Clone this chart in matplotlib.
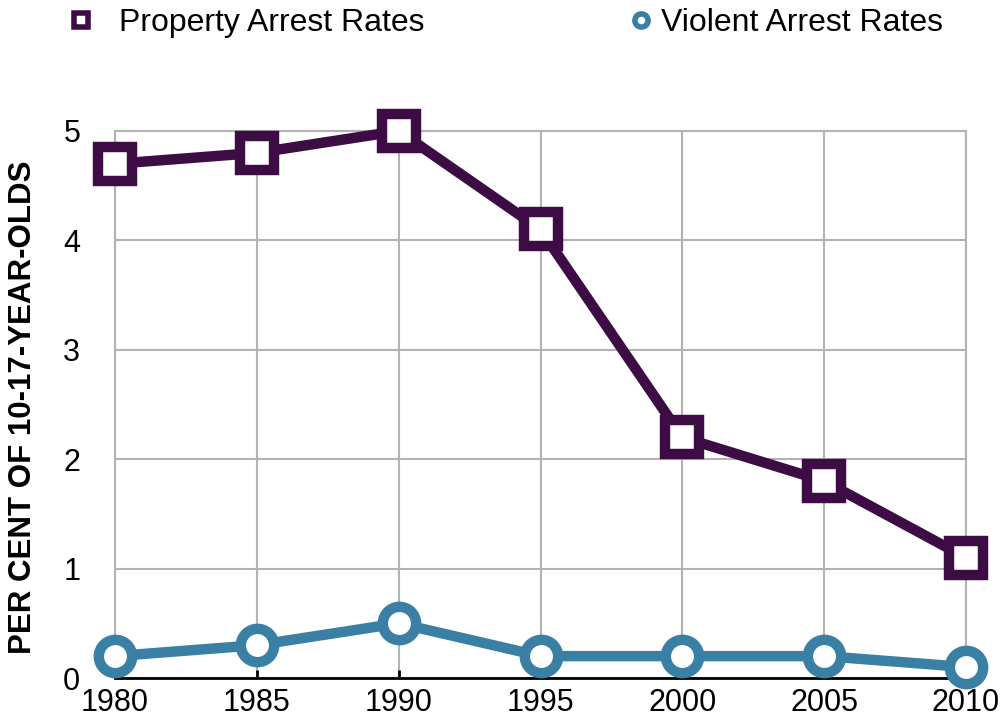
import matplotlib
matplotlib.use("Agg")
import matplotlib.pyplot as plt
from matplotlib.lines import Line2D

years = [1980, 1985, 1990, 1995, 2000, 2005, 2010]
property_rates = [4.7, 4.8, 5.0, 4.1, 2.2, 1.8, 1.1]
violent_rates = [0.2, 0.3, 0.5, 0.2, 0.2, 0.2, 0.1]
y_ticks = [0, 1, 2, 3, 4, 5]
series_names = ["Property Arrest Rates", "Violent Arrest Rates"]

purple = "#3d0c45"
blue = "#3a7fa4"

plt.rcParams['font.family'] = ['Liberation Sans', 'DejaVu Sans']

fig = plt.figure(figsize=(10.02, 7.27), dpi=100)
W, H = 1002, 727
ax = fig.add_axes([115 / W, 1 - 678 / H, (966 - 115) / W, (678 - 131) / H])

ax.plot(years, property_rates, color=purple, lw=7.5, marker='s', markersize=25,
        markeredgewidth=7.5, markerfacecolor='white', markeredgecolor=purple,
        clip_on=False, zorder=4)
ax.plot(years, violent_rates, color=blue, lw=7.5, marker='o', markersize=24,
        markeredgewidth=7.5, markerfacecolor='white', markeredgecolor=blue,
        clip_on=False, zorder=5)

ax.set_xlim(1980, 2010)
ax.set_ylim(0, 5)
ax.set_xticks(years)
ax.set_yticks(y_ticks)
ax.grid(True, color="#b3b3b3", lw=1.5)
ax.set_axisbelow(True)
for s in ['left', 'right', 'top']:
    ax.spines[s].set_color("#b3b3b3")
    ax.spines[s].set_linewidth(1.5)
ax.spines['bottom'].set_color('black')
ax.spines['bottom'].set_linewidth(2)
ax.spines['bottom'].set_zorder(3)
ax.tick_params(axis='x', direction='in', length=6, width=2, color='black',
               labelsize=22, pad=7)
ax.tick_params(axis='y', length=0, labelsize=22, pad=25)

ax.set_ylabel("PER CENT OF 10-17-YEAR-OLDS", fontsize=22.5, fontweight='bold')
ax.yaxis.set_label_coords(-0.0905, 0.495)

h_prop = Line2D([], [], ls='none', marker='s', markersize=10, markeredgewidth=4,
                markerfacecolor='white', markeredgecolor=purple)
h_viol = Line2D([], [], ls='none', marker='o', markersize=9.5, markeredgewidth=4,
                markerfacecolor='white', markeredgecolor=blue)
fig.legend([h_prop], [series_names[0]], loc='center left',
           bbox_to_anchor=(65 / W, 1 - 23 / H), frameon=False, fontsize=23,
           handlelength=1.0, handletextpad=0.7, borderaxespad=0, borderpad=0)
fig.legend([h_viol], [series_names[1]], loc='center left',
           bbox_to_anchor=(625 / W, 1 - 23 / H), frameon=False, fontsize=23,
           handlelength=1.0, handletextpad=0.12, borderaxespad=0, borderpad=0)

fig.savefig("out.png", dpi=100)
